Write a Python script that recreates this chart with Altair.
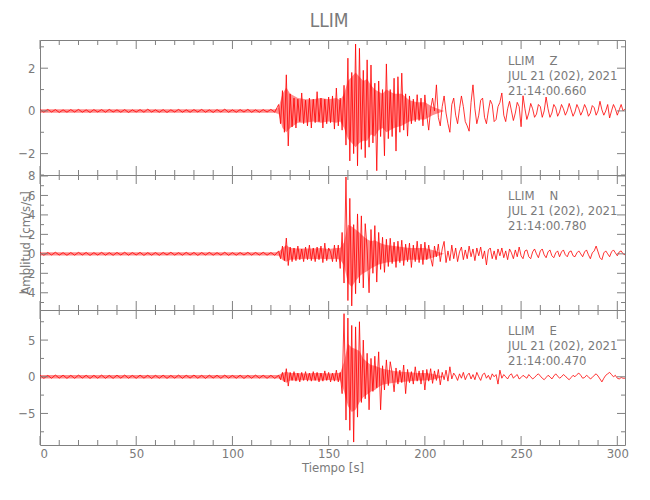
import altair as alt
import pandas as pd

STATION = "LLIM"
COMPONENTS = ["Z", "N", "E"]
START_TIMES = ["21:14:00.660", "21:14:00.780", "21:14:00.470"]
DATE_LABEL = "JUL 21 (202), 2021"
X_TITLE = "Tiempo [s]"
Y_TITLE = "Amplitud [cm/s/s]"

NOISE_STEP = 2      # s, spacing of the pre-event samples
EVENT_START = 124   # s, first sample of the event segment (1 s spacing)
X_MAX = 304

X_MAJOR = [0, 50, 100, 150, 200, 250, 300]
X_MINOR = [10, 20, 30, 40, 60, 70, 80, 90, 110, 120, 130, 140, 160, 170, 180, 190,
           210, 220, 230, 240, 260, 270, 280, 290]

# ---- Z component ----
Z_NOISE = [0.05, -0.06, 0.07, -0.05, 0.06, -0.07, 0.05, -0.06, 0.06, -0.05,
           0.07, -0.06, 0.05, -0.07, 0.06, -0.05, 0.06, -0.06, 0.07, -0.05,
           0.05, -0.06, 0.06, -0.07, 0.05, -0.05, 0.06, -0.06, 0.08, -0.05,
           0.05, -0.06, 0.06, -0.07, 0.05, -0.05, 0.07, -0.06, 0.05, -0.06,
           0.06, -0.05, 0.07, -0.06, 0.05, -0.07, 0.06, -0.05, 0.08, -0.06,
           0.05, -0.06, 0.06, -0.05, 0.07, -0.06, 0.05, -0.06, 0.06, -0.05,
           0.07, -0.06]
Z_EVENT = [0.30, -0.60, 0.95, -1.00, 1.69, -1.64, 0.80, -0.75, 0.60, -0.80,
           0.55, -0.50, 0.84, -0.60, 0.50, -0.70, 0.60, -0.80, 0.55, -0.55,
           0.90, -0.50, 0.60, -0.80, 0.55, -0.60, 0.65, -0.55, 0.70, -0.85,
           1.07, -0.70, 0.60, -0.90, 1.20, -1.60, 2.47, -2.34, 1.80, -2.00,
           3.13, -2.57, 2.93, -1.80, 1.90, -2.19, 2.39, -1.70, 2.15, -1.50,
           1.30, -2.80, 1.40, -1.20, 1.00, -2.10, 2.20, -1.30, 1.00, -1.20,
           1.53, -1.88, 1.60, -1.00, 1.77, -0.90, 0.80, -1.18, 0.70, -0.60,
           0.55, -0.50, 0.76, -0.45, 0.60, -0.70, 0.75, -0.20, -0.90, 0.10,
           0.60, 0.00, 1.22, -0.30, -0.70, 0.20, 0.70, -0.10, -0.60, -1.00,
           0.30, 0.60, -0.20, -0.60, 0.10, 0.70, 0.20, -0.50, -0.70, -0.95,
           0.40, 1.22, 0.10, -0.60, -0.20, 0.50, 0.60, -0.30, -0.60, 0.00,
           0.50, 0.30, -0.50, -0.40, 0.20, 0.40, 0.84, -0.20, -0.50, 0.10,
           0.45, 0.00, -0.45, -0.10, 0.40, 0.20, -0.74, 0.71, 0.10, -0.40,
           -0.10, 0.35, 0.10, -0.30, -0.15, 0.30, 0.20, -0.30, 0.00, 0.65,
           0.10, -0.30, -0.10, 0.30, 0.15, -0.25, -0.05, 0.30, 0.10, -0.20,
           0.00, 0.35, 0.05, -0.25, -0.05, 0.30, 0.10, -0.20, 0.00, 0.30,
           0.10, -0.25, -0.10, 0.25, 0.15, -0.20, 0.00, 0.45, 0.05, -0.20,
           0.00, 0.30, -0.33, 0.00, 0.30, 0.10, -0.20, 0.05, 0.30, 0.00,
           0.10]

# ---- N component ----
N_NOISE = [0.12, -0.15, 0.14, -0.12, 0.16, -0.13, 0.12, -0.15, 0.13, -0.14,
           0.15, -0.12, 0.14, -0.16, 0.12, -0.13, 0.15, -0.14, 0.12, -0.15,
           0.14, -0.12, 0.16, -0.14, 0.13, -0.12, 0.15, -0.16, 0.12, -0.14,
           0.13, -0.15, 0.14, -0.12, 0.16, -0.13, 0.12, -0.14, 0.15, -0.12,
           0.14, -0.16, 0.13, -0.12, 0.15, -0.14, 0.12, -0.13, 0.16, -0.15,
           0.12, -0.14, 0.13, -0.12, 0.15, -0.13, 0.14, -0.12, 0.16, -0.14,
           0.13, -0.15]
N_EVENT = [0.30, -0.50, 0.80, -0.70, 1.62, -1.20, 0.70, -0.80, 0.60, -0.70,
           0.80, -0.60, 0.50, -0.80, 0.70, -0.60, 0.90, -0.70, 0.60, -0.80,
           0.70, -0.60, 0.80, -0.90, 1.10, -0.70, 0.60, 0.20, -0.80, 0.90,
           -0.80, 0.90, -1.50, 2.20, -3.00, 7.90, -4.80, 5.70, -5.35, 3.00,
           -4.10, 4.10, -3.00, 3.90, -3.50, 3.10, 0.50, -4.00, 2.50, -2.00,
           2.90, -2.90, 2.20, -1.60, 1.70, -1.90, 1.50, -1.30, 1.60, -1.00,
           1.20, -1.40, 1.30, -0.90, 1.40, -1.20, 1.00, -0.80, 1.10, -1.40,
           0.90, -0.80, 1.30, -0.90, 1.00, -1.10, 1.20, -0.60, 0.90, -0.40,
           -1.28, 0.80, -0.30, 1.00, -0.80, 0.50, 1.28, -0.90, 0.30, -0.70,
           0.90, -0.50, 0.60, -0.80, 0.20, 0.70, -0.60, 0.40, -0.50, 0.80,
           -0.30, 0.50, -0.70, 0.60, -0.20, 0.70, -0.50, 0.30, -1.14, 0.40,
           0.60, -0.50, 0.30, -0.60, 0.50, -0.20, 0.60, -0.40, 0.30, -0.60,
           0.50, 0.10, -0.50, 0.40, -0.30, 0.70, -0.20, -0.50, 0.30, 0.40,
           -0.30, -0.50, 0.20, 0.50, 0.00, -0.40, 0.30, 0.50, -0.10, -0.40,
           0.20, 0.40, -0.20, -0.40, 0.10, 0.30, -0.30, 0.20, 0.40, -0.10,
           -0.30, 0.20, 0.30, -0.20, -0.30, 0.10, 0.30, 0.00, -0.30, 0.20,
           0.40, -0.10, -0.50, 0.10, 0.30, 0.80, 0.20, -0.40, -0.60, 0.10,
           0.30, 0.00, -0.30, 0.20, 0.40, 0.10, -0.20, 0.20, 0.30, 0.00,
           -0.10]

# ---- E component ----
E_NOISE = [0.20, -0.22, 0.18, -0.20, 0.23, -0.19, 0.21, -0.22, 0.19, -0.21,
           0.22, -0.18, 0.20, -0.23, 0.19, -0.20, 0.22, -0.21, 0.18, -0.22,
           0.21, -0.19, 0.23, -0.20, 0.18, -0.21, 0.22, -0.19, 0.20, -0.23,
           0.19, -0.20, 0.21, -0.22, 0.18, -0.19, 0.22, -0.21, 0.20, -0.18,
           0.23, -0.20, 0.19, -0.22, 0.21, -0.18, 0.20, -0.21, 0.22, -0.19,
           0.18, -0.20, 0.21, -0.23, 0.19, -0.20, 0.22, -0.18, 0.20, -0.21,
           0.19, -0.22]
E_EVENT = [0.20, -0.40, 0.60, -0.70, 1.10, -1.27, 0.60, -0.50, 0.70, -0.60,
           0.50, -0.70, 0.60, -0.50, 0.70, -0.60, 0.50, -0.60, 0.70, -0.50,
           0.60, -0.70, 0.50, -0.60, 0.80, -0.50, 0.60, -0.70, 0.50, -0.60,
           0.90, -0.70, 0.60, -2.30, 8.60, -5.90, 8.00, -7.30, 7.00, -8.90,
           6.80, -5.50, 7.50, -3.50, 5.00, -3.00, 3.20, -4.50, 2.50, -2.00,
           2.80, -1.50, 3.40, -4.50, 1.50, -1.80, 2.30, -1.20, 2.05, 0.50,
           -2.05, 1.20, -1.00, 0.90, -0.80, 1.60, -2.30, 1.00, -0.80, 0.70,
           -1.00, 1.36, -0.60, 0.80, -1.00, 0.90, -1.80, 1.00, -0.60, 1.10,
           -0.90, 0.80, -0.50, 1.00, -1.10, 0.60, -0.40, 0.90, -0.60, 1.36,
           -0.30, 0.50, 0.10, -0.50, 0.40, -0.20, 0.60, -0.40, 0.20, 0.50,
           -0.30, 0.30, -0.40, 0.60, 0.00, -0.50, 0.30, 0.50, -0.20, 0.20,
           -0.40, 0.40, 0.00, 0.30, -1.00, 0.90, -0.20, 0.30, 0.00, -0.30,
           0.20, 0.40, -0.20, 0.10, 0.30, -0.30, -0.10, 0.20, 0.00, -0.20,
           0.30, 0.00, -0.30, -0.10, 0.20, 0.40, 0.10, -0.20, -0.40, -0.10,
           0.20, 0.00, -0.30, 0.10, 0.40, 0.10, -0.20, 0.00, 0.30, 0.10,
           -0.20, -0.40, -0.10, 0.20, 0.00, 0.30, 0.50, 0.20, -0.20, -0.10,
           0.20, 0.00, -0.30, -0.10, 0.20, 0.40, 0.10, -0.30, -0.70, -0.20,
           0.20, 0.40, 0.60, 0.30, 0.00, 0.20, -0.20, -0.30, -0.10, -0.20,
           -0.20]

# ---- dense-oscillation core band (upper / lower envelope) ----
ENV_T = [0, 122, 124, 126, 128, 130, 134, 138, 142, 146, 150, 154, 156, 158, 160, 162,
         164, 166, 168, 170, 172, 174, 176, 178, 180, 184, 188, 192, 196, 200, 204, 210]
Z_ENV_HI = [0.08, 0.08, 0.15, 0.8, 1.1, 0.8, 0.6, 0.55, 0.55, 0.6, 0.55, 0.6, 0.5, 0.8, 1.4, 1.6,
            1.8, 1.6, 1.4, 1.5, 1.2, 1.0, 0.9, 0.8, 1.0, 0.8, 0.8, 0.5, 0.4, 0.4, 0.2, 0.0]
Z_ENV_LO = [-0.08, -0.08, -0.15, -0.8, -1.0, -0.8, -0.55, -0.55, -0.5, -0.55, -0.5, -0.55, -0.5, -0.8, -1.3, -1.5,
            -1.7, -1.5, -1.4, -1.4, -1.1, -1.2, -0.9, -0.8, -1.0, -0.8, -0.7, -0.5, -0.4, -0.4, -0.2, 0.0]
N_ENV_HI = [0.16, 0.16, 0.2, 0.6, 0.9, 0.6, 0.55, 0.55, 0.55, 0.6, 0.5, 0.6, 0.6, 1.2, 3.0, 2.8,
            2.5, 2.2, 1.8, 1.5, 1.3, 1.4, 1.2, 1.0, 0.9, 0.8, 0.7, 0.6, 0.6, 0.6, 0.4, 0.0]
N_ENV_LO = [-0.16, -0.16, -0.2, -0.6, -0.8, -0.6, -0.55, -0.5, -0.55, -0.5, -0.55, -0.5, -0.6, -1.2, -3.0, -3.4,
            -2.8, -2.3, -2.0, -1.8, -1.5, -1.3, -1.1, -1.0, -0.9, -0.8, -0.7, -0.6, -0.6, -0.6, -0.4, 0.0]
E_ENV_HI = [0.23, 0.23, 0.25, 0.5, 0.7, 0.5, 0.5, 0.45, 0.5, 0.5, 0.45, 0.5, 0.5, 2.0, 4.5, 4.0,
            3.8, 3.5, 2.5, 2.0, 1.6, 1.5, 1.3, 1.1, 1.0, 0.8, 0.7, 0.6, 0.5, 0.5, 0.4, 0.0]
E_ENV_LO = [-0.23, -0.23, -0.25, -0.5, -0.8, -0.5, -0.5, -0.45, -0.5, -0.5, -0.45, -0.5, -0.5, -2.0, -4.0, -4.8,
            -4.5, -3.5, -2.8, -2.4, -2.0, -1.8, -1.4, -1.1, -1.0, -0.8, -0.7, -0.6, -0.5, -0.5, -0.4, 0.0]

Y_DOMAINS = [[-3.0, 3.32], [-5.77, 8.1], [-9.3, 9.1]]
Y_MAJOR = [[-2, 0, 2], [-4, -2, 0, 2, 4, 6, 8], [-5, 0, 5]]
Y_MINOR = [[-3, -1, 1, 3], [-5, -3, -1, 1, 3, 5, 7], [-7.5, -2.5, 2.5, 7.5]]
NOISES = [Z_NOISE, N_NOISE, E_NOISE]
EVENTS = [Z_EVENT, N_EVENT, E_EVENT]
ENV_HI = [Z_ENV_HI, N_ENV_HI, E_ENV_HI]
ENV_LO = [Z_ENV_LO, N_ENV_LO, E_ENV_LO]

W, H = 585, 135
GREY = "#7a7a7a"
FRAME = "#808080"
RED = "#ff0000"
FONT = "Liberation Sans Narrow, DejaVu Sans Condensed, Arial Narrow, sans-serif"


def panel(i):
    noise, event = NOISES[i], EVENTS[i]
    t = [NOISE_STEP * k for k in range(len(noise))] + [EVENT_START + k for k in range(len(event))]
    df = pd.DataFrame({"t": t, "v": noise + event})
    env = pd.DataFrame({"t": ENV_T, "v": ENV_HI[i], "v2": ENV_LO[i]})
    bottom = i == 2
    middle = i == 1
    if bottom:
        xaxis = alt.Axis(values=X_MAJOR, ticks=False, domain=False, grid=False,
                         labelPadding=2, title=X_TITLE, titlePadding=1)
    else:
        xaxis = None
    xenc = alt.X("t:Q", scale=alt.Scale(domain=[0, X_MAX], nice=False, zero=False), axis=xaxis)
    if middle:
        yaxis = alt.Axis(values=Y_MAJOR[i], ticks=False, domain=False, grid=False,
                         labelPadding=5, title=Y_TITLE, titleX=-8)
    else:
        yaxis = alt.Axis(values=Y_MAJOR[i], ticks=False, domain=False, grid=False,
                         labelPadding=5, title=None)
    yenc = alt.Y("v:Q", scale=alt.Scale(domain=Y_DOMAINS[i], nice=False, zero=False), axis=yaxis)

    band = alt.Chart(env).mark_area(color=RED, opacity=0.45, clip=True).encode(
        x=xenc, y=yenc, y2="v2:Q")
    line = alt.Chart(df).mark_line(color=RED, strokeWidth=0.8, clip=True).encode(x=xenc, y=yenc)

    layers = [line, band]
    for vals, ln in ((X_MAJOR, 9), (X_MINOR, 5)):
        d = pd.DataFrame({"t": vals})
        layers.append(alt.Chart(d).mark_rule(color=FRAME, strokeWidth=1).encode(
            x=xenc, y=alt.value(0), y2=alt.value(ln)))
        layers.append(alt.Chart(d).mark_rule(color=FRAME, strokeWidth=1).encode(
            x=xenc, y=alt.value(H - ln), y2=alt.value(H)))
    for vals, ln in ((Y_MAJOR[i], 8), (Y_MINOR[i], 4)):
        d = pd.DataFrame({"v": vals})
        layers.append(alt.Chart(d).mark_rule(color=FRAME, strokeWidth=1).encode(
            y=yenc, x=alt.value(0), x2=alt.value(ln)))
        layers.append(alt.Chart(d).mark_rule(color=FRAME, strokeWidth=1).encode(
            y=yenc, x=alt.value(W - ln), x2=alt.value(W)))

    note = alt.Chart(pd.DataFrame({"a": [0]})).mark_text(
        align="left", baseline="top", font=FONT, fontSize=13, color=GREY, lineHeight=15
    ).encode(
        x=alt.value(468), y=alt.value(15),
        text=alt.value([f"{STATION}\u00a0\u00a0\u00a0\u00a0{COMPONENTS[i]}", DATE_LABEL, START_TIMES[i]]),
    )
    layers.append(note)
    return alt.layer(*layers).properties(width=W, height=H)


chart = alt.vconcat(panel(0), panel(1), panel(2), spacing=0, bounds="flush").properties(
    title=alt.TitleParams(STATION, fontSize=19, font=FONT, color=GREY, fontWeight="normal",
                          offset=8, anchor="middle", dx=6),
    padding={"left": 9, "top": 4, "right": 5, "bottom": 5},
).configure_view(stroke=FRAME, strokeWidth=1).configure_axis(
    labelFont=FONT, labelFontSize=13, labelColor=GREY,
    titleFont=FONT, titleFontSize=13, titleColor=GREY, titleFontWeight="normal",
)

chart.save("out.html", embed_options={"renderer": "svg", "actions": False})
